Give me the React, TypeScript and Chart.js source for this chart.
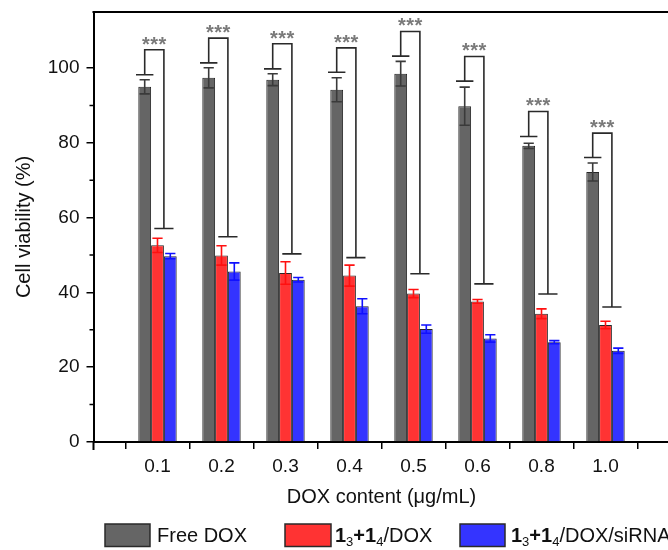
import React, { useEffect, useRef } from 'react';
import { Chart, registerables } from 'chart.js';

Chart.register(...registerables);

// ---- data ----
const categories = ['0.1', '0.2', '0.3', '0.4', '0.5', '0.6', '0.8', '1.0'];
const freeDox = [95.0, 97.4, 96.9, 94.2, 98.5, 89.8, 79.2, 72.2];
const freeDoxErr = [1.9, 2.7, 1.6, 3.2, 3.3, 5.1, 0.7, 2.4];
const dox = [52.6, 49.9, 45.2, 44.5, 39.7, 37.6, 34.3, 31.3];
const doxErr = [1.9, 2.6, 3.0, 2.8, 1.1, 0.5, 1.3, 1.0];
const doxSi = [49.7, 45.6, 43.4, 36.3, 30.2, 27.7, 26.7, 24.4];
const doxSiErr = [0.7, 2.3, 0.6, 2.0, 1.1, 1.0, 0.4, 0.7];
// significance brackets: left foot (over Free DOX), right foot (over the two others), top
const bracketLeft = [98.2, 101.4, 99.8, 98.9, 103.2, 96.5, 81.7, 76.1];
const bracketRight = [57.1, 54.9, 50.3, 49.3, 45.0, 42.3, 39.6, 36.1];
const bracketTop = [104.9, 108.0, 106.5, 105.4, 109.8, 103.1, 88.4, 82.6];
const bracketLabel = '***';
const yMajorTicks = [0, 20, 40, 60, 80, 100];
const yMinorTicks = [10, 30, 50, 70, 90];
const seriesNames = ['Free DOX', '1₃+1₄/DOX', '1₃+1₄/DOX/siRNA'];

const FONT = "'Liberation Sans', Arial, Helvetica, sans-serif";
const fills = ['#656565', '#ff3333', '#3434ff'];
const errColors = ['#3a3a3a', '#ff1010', '#1010ff'];

export default function App() {
  const ref = useRef<HTMLCanvasElement>(null);

  useEffect(() => {
    const canvas = ref.current;
    if (!canvas) return;
    const values = [freeDox, dox, doxSi];
    const errors = [freeDoxErr, doxErr, doxSiErr];
    const toPts = (vals: number[]) => vals.map((y, i) => ({ x: i + 1, y }));

    const overlay = {
      id: 'overlay',
      afterDatasetsDraw(chart: any) {
        const { ctx, scales } = chart;
        const y = scales.y;
        ctx.save();
        // error bars
        for (let d = 0; d < 3; d++) {
          const meta = chart.getDatasetMeta(d);
          meta.data.forEach((bar: any, i: number) => {
            const v = values[d][i];
            const e = errors[d][i];
            const yt = y.getPixelForValue(v + e);
            const yb = y.getPixelForValue(v - e);
            const hw = bar.width * 0.4;
            ctx.strokeStyle = errColors[d];
            ctx.lineWidth = 1.6;
            ctx.beginPath();
            ctx.moveTo(bar.x, yt);
            ctx.lineTo(bar.x, yb);
            ctx.moveTo(bar.x - hw, yt);
            ctx.lineTo(bar.x + hw, yt);
            ctx.moveTo(bar.x - hw, yb);
            ctx.lineTo(bar.x + hw, yb);
            ctx.stroke();
          });
        }
        // brackets
        const m0 = chart.getDatasetMeta(0).data;
        const m1 = chart.getDatasetMeta(1).data;
        const m2 = chart.getDatasetMeta(2).data;
        for (let i = 0; i < categories.length; i++) {
          const lx = m0[i].x;
          const rx = (m1[i].x + m2[i].x) / 2;
          const ly = y.getPixelForValue(bracketLeft[i]);
          const ry = y.getPixelForValue(bracketRight[i]);
          const ty = y.getPixelForValue(bracketTop[i]);
          const lw = m0[i].width * 0.68;
          const rw = m0[i].width * 0.75;
          ctx.strokeStyle = '#2a2a2a';
          ctx.lineWidth = 1.6;
          ctx.beginPath();
          ctx.moveTo(lx - lw, ly);
          ctx.lineTo(lx + lw, ly);
          ctx.moveTo(lx, ly);
          ctx.lineTo(lx, ty);
          ctx.lineTo(rx, ty);
          ctx.lineTo(rx, ry);
          ctx.moveTo(rx - rw, ry);
          ctx.lineTo(rx + rw, ry);
          ctx.stroke();
          ctx.fillStyle = '#7a7a7a';
          ctx.font = `bold 20px ${FONT}`;
          ctx.textAlign = 'center';
          ctx.textBaseline = 'alphabetic';
          try { (ctx as any).letterSpacing = '0.5px'; } catch (e) {}
          ctx.fillText(bracketLabel, (lx + rx) / 2, ty + 1);
          try { (ctx as any).letterSpacing = '0px'; } catch (e) {}
        }
        ctx.restore();
      },
      afterDraw(chart: any) {
        const { ctx, chartArea, scales } = chart;
        const y = scales.y;
        ctx.save();
        // top frame line
        ctx.strokeStyle = '#000';
        ctx.lineWidth = 2;
        ctx.beginPath();
        ctx.moveTo(chartArea.left - 1, chartArea.top);
        ctx.lineTo(chartArea.right + 2, chartArea.top);
        ctx.stroke();
        // y axis extension below x axis
        ctx.beginPath();
        ctx.moveTo(chartArea.left, chartArea.bottom);
        ctx.lineTo(chartArea.left, chartArea.bottom + 8);
        ctx.stroke();
        // minor y ticks
        ctx.lineWidth = 1.5;
        ctx.beginPath();
        yMinorTicks.forEach((v) => {
          const py = y.getPixelForValue(v);
          ctx.moveTo(chartArea.left - 4, py);
          ctx.lineTo(chartArea.left, py);
        });
        ctx.stroke();

        // legend
        const boxes = [
          { x: 105, w: 45, tx: 157 },
          { x: 285, w: 46, tx: 335 },
          { x: 460, w: 45, tx: 511 },
        ];
        const by = 524;
        const bh = 22.5;
        const base = 542;
        boxes.forEach((b, k) => {
          ctx.fillStyle = fills[k];
          ctx.fillRect(b.x, by, b.w, bh);
          ctx.strokeStyle = '#2a2a2a';
          ctx.lineWidth = 1.5;
          ctx.strokeRect(b.x, by, b.w, bh);
        });
        ctx.fillStyle = '#111';
        ctx.textAlign = 'left';
        ctx.textBaseline = 'alphabetic';
        ctx.font = `20px ${FONT}`;
        ctx.fillText(seriesNames[0], boxes[0].tx, base);
        const drawFormula = (x0: number, rest: string) => {
          let x = x0;
          const parts: [string, string, number][] = [
            ['1', `bold 20px ${FONT}`, 0],
            ['3', `13px ${FONT}`, 4],
            ['+', `bold 20px ${FONT}`, 0],
            ['1', `bold 20px ${FONT}`, 0],
            ['4', `13px ${FONT}`, 4],
            [rest, `20px ${FONT}`, 0],
          ];
          parts.forEach(([t, f, dy]) => {
            ctx.font = f;
            ctx.fillText(t, x, base + dy);
            x += ctx.measureText(t).width;
          });
        };
        drawFormula(boxes[1].tx, '/DOX');
        drawFormula(boxes[2].tx, '/DOX/siRNA');
        ctx.restore();
      },
    };

    const chart = new Chart(canvas, {
      type: 'bar',
      data: {
        datasets: [0, 1, 2].map((d) => ({
          label: seriesNames[d],
          data: toPts(values[d]) as any,
          backgroundColor: fills[d],
          borderColor: '#262626',
          borderWidth: 1,
          categoryPercentage: 0.6,
          barPercentage: 1.0,
        })),
      },
      options: {
        responsive: false,
        animation: false,
        devicePixelRatio: 1,
        layout: { padding: { left: 0, top: 12, right: 10.5, bottom: 0 } },
        plugins: { legend: { display: false }, tooltip: { enabled: false } },
        scales: {
          x: {
            type: 'linear',
            min: 0,
            max: 9,
            offset: false,
            afterBuildTicks: (s: any) => {
              s.ticks = [0, 1, 2, 3, 4, 5, 6, 7, 8, 9].map((v) => ({ value: v }));
            },
            afterFit: (s: any) => {
              s.height = 108;
              s.paddingLeft = 0;
              s.paddingRight = 0;
            },
            ticks: {
              autoSkip: false,
              maxRotation: 0,
              padding: 6,
              color: '#111',
              font: { family: FONT, size: 19 },
              callback: (v: any) => categories[Number(v) - 1] ?? '',
            },
            grid: {
              display: true,
              drawOnChartArea: false,
              drawTicks: true,
              tickLength: 7,
              color: '#000',
              lineWidth: 1.5,
            },
            border: { display: true, color: '#000', width: 2 },
            title: {
              display: true,
              text: 'DOX content (μg/mL)',
              color: '#111',
              font: { family: FONT, size: 20 },
              padding: { top: 0, bottom: 41 },
            },
          },
          y: {
            type: 'linear',
            min: 0,
            max: 115,
            afterBuildTicks: (s: any) => {
              s.ticks = yMajorTicks.map((v) => ({ value: v }));
            },
            afterFit: (s: any) => {
              s.width = 93.5;
              s.paddingTop = 0;
              s.paddingBottom = 0;
            },
            ticks: {
              padding: 7,
              color: '#111',
              font: { family: FONT, size: 19 },
            },
            grid: {
              display: true,
              drawOnChartArea: false,
              drawTicks: true,
              tickLength: 7,
              color: '#000',
              lineWidth: 1.5,
            },
            border: { display: true, color: '#000', width: 2 },
            title: {
              display: true,
              text: 'Cell viability (%)',
              color: '#111',
              font: { family: FONT, size: 20 },
              padding: { top: 12, bottom: 0 },
            },
          },
        },
      },
      plugins: [overlay],
    } as any);

    return () => chart.destroy();
  }, []);

  return (
    <div
      style={{
        position: 'fixed',
        left: 0,
        top: 0,
        width: 668,
        height: 550,
        overflow: 'hidden',
        background: '#fff',
      }}
    >
      <canvas ref={ref} width={680} height={550} style={{ display: 'block' }} />
    </div>
  );
}
